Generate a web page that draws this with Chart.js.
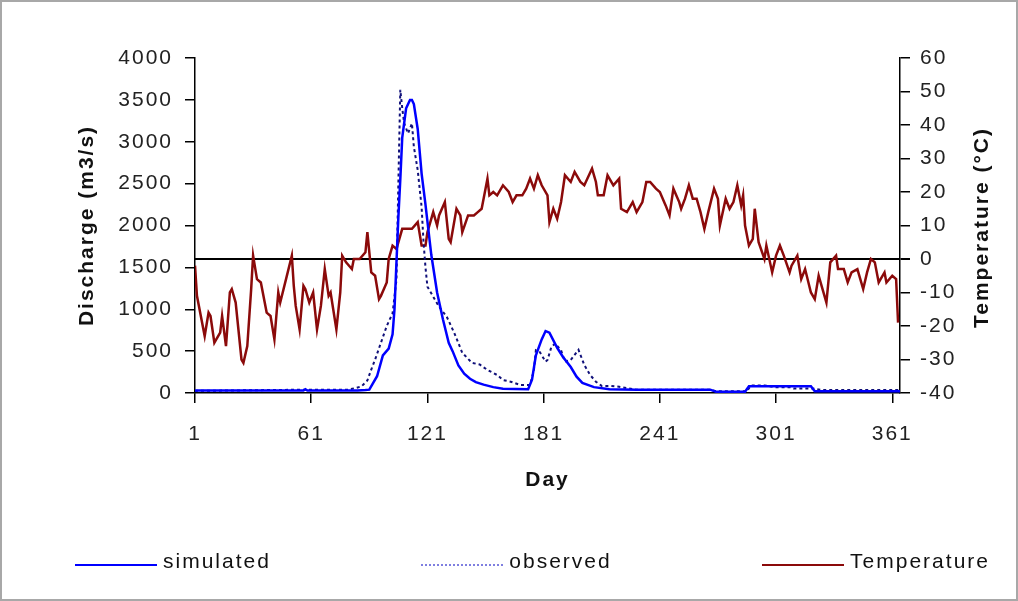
<!DOCTYPE html>
<html>
<head>
<meta charset="utf-8">
<title>Discharge and temperature</title>
<script src="https://cdn.jsdelivr.net/npm/chart.js@4.4.1/dist/chart.umd.min.js"></script>
<style>
  html, body { margin: 0; padding: 0; background: #fff; }
  #wrap { position: relative; width: 1018px; height: 601px; overflow: hidden; background: #fff; }
  #chart { position: absolute; left: 0; top: 0; }
  #frame { position: absolute; left: 0; top: 0; right: 0; bottom: 0; border: 2px solid #a8a8a8; box-sizing: border-box; pointer-events: none; }
  #legend { position: absolute; left: 75px; right: 28px; top: 549px; display: flex; justify-content: space-between;
            font: 21px "Liberation Sans", Arial, sans-serif; letter-spacing: 2px; color: #111; }
  .item { display: flex; align-items: center; white-space: nowrap; }
  .swatch { width: 82px; height: 0; margin-right: 6px; margin-top: 8px; }
</style>
</head>
<body>
<div id="wrap">
  <canvas id="chart" width="1018" height="601"></canvas>
  <div id="legend"></div>
  <div id="frame"></div>
</div>
<script>
  // x axis
  const xTicks = [1, 61, 121, 181, 241, 301, 361];
  const y2Title = 'Temperature (°C)';

  // simulated discharge (m3/s)
  const simDays = [1, 57, 58, 59, 85, 89, 91, 93, 95, 98, 101, 103, 104, 105, 106, 107, 108, 110, 112, 113,
    114, 116, 118, 120, 123, 126, 129, 132, 134, 137, 140, 143, 146, 150, 155, 160, 173, 175, 177, 180,
    182, 184, 188, 191, 195, 198, 201, 207, 215, 229, 267, 270, 285, 287, 319, 321, 365];
  const simQ = [30, 30, 45, 30, 30, 35, 40, 120, 200, 450, 530, 700, 1000, 1550, 2100, 2550, 3050, 3400, 3500, 3500,
    3450, 3150, 2620, 2250, 1650, 1200, 880, 600, 500, 330, 230, 170, 130, 100, 70, 50, 45, 160, 450, 640,
    740, 720, 540, 430, 310, 195, 120, 70, 45, 40, 40, 15, 15, 80, 80, 20, 20];

  // observed discharge (m3/s)
  const obsDays = [1, 58, 80, 84, 87, 90, 92, 94, 97, 100, 103, 105, 106, 107, 108, 109, 111, 113, 114, 116,
    118, 119, 120, 121, 124, 127, 131, 135, 139, 144, 148, 152, 157, 160, 164, 169, 174, 176, 177, 179,
    182, 183, 185, 187, 190, 192, 195, 197, 199, 201, 202, 205, 208, 211, 215, 220, 229, 267, 270, 286,
    288, 295, 300, 308, 310, 320, 325, 365];
  const obsQ = [25, 40, 40, 60, 80, 150, 280, 400, 600, 800, 950, 1350, 2500, 3620, 3400, 3220, 3100, 3220, 2940, 2660,
    2220, 1800, 1500, 1270, 1150, 1030, 910, 710, 480, 360, 340, 275, 215, 155, 135, 96, 96, 275, 510, 490,
    375, 395, 550, 590, 510, 375, 395, 455, 515, 395, 335, 215, 135, 85, 85, 75, 40, 40, 20, 20,
    90, 90, 70, 70, 55, 55, 36, 36];

  // air temperature (°C)
  const tempDays = [1, 2, 6, 8, 9, 11, 14, 15, 17, 19, 20, 22, 25, 26, 28, 30, 31, 33, 35, 38,
    40, 42, 44, 45, 48, 51, 52, 53, 55, 57, 58, 60, 62, 64, 66, 68, 70, 71, 74, 76,
    77, 79, 82, 83, 86, 89, 90, 92, 94, 96, 97, 100, 101, 103, 105, 108, 110, 113, 116, 118,
    120, 121, 124, 126, 127, 130, 132, 133, 136, 138, 139, 142, 145, 147, 149, 151, 152, 153, 155, 157,
    160, 163, 165, 167, 170, 172, 174, 176, 178, 180, 183, 184, 186, 188, 190, 192, 195, 197, 200, 202,
    206, 208, 209, 212, 214, 217, 220, 221, 224, 227, 229, 232, 234, 236, 239, 241, 244, 246, 248, 251,
    252, 254, 256, 258, 260, 262, 264, 266, 269, 271, 272, 275, 277, 279, 281, 283, 284, 285, 287, 289,
    290, 292, 295, 296, 299, 301, 303, 305, 308, 309, 312, 314, 316, 319, 321, 323, 325, 327, 329, 332,
    333, 336, 338, 340, 343, 346, 348, 350, 352, 354, 357, 358, 361, 363, 364];
  const tempC = [-2, -11, -23, -16, -17, -25, -22, -17, -26, -10, -9, -13, -30, -31, -26, -9, 1, -6, -7, -16,
    -17, -24, -10, -13, -6, 1, -8, -14, -21, -8, -9, -13, -10, -21, -14, -3, -11, -10, -21, -10,
    1, -1, -3, 0, 0, 2, 8, -4, -5, -12, -11, -7, 0, 4, 3, 9, 9, 9, 11, 4,
    4, 8, 14, 10, 13, 17, 6, 5, 15, 13, 8, 13, 13, 14, 15, 21, 24, 19, 20, 19,
    22, 20, 17, 19, 19, 21, 24, 21, 25, 22, 19, 11, 15, 12, 17, 25, 23, 26, 23, 22,
    27, 23, 19, 19, 25, 22, 24, 15, 14, 17, 14, 17, 23, 23, 21, 20, 16, 13, 21, 17,
    15, 18, 22, 18, 18, 14, 9, 14, 21, 18, 10, 18, 15, 17, 22, 16, 19, 10, 4, 6,
    15, 5, 0, 4, -4, 1, 4, 1, -4, -2, 1, -6, -3, -10, -12, -5, -9, -13, -1, 1,
    -3, -3, -7, -4, -3, -9, -4, 0, -1, -7, -4, -7, -5, -6, -19];

  const pts = (xs, ys) => xs.map((x, i) => ({ x: x, y: ys[i] }));

  const FONT = '"Liberation Sans", Arial, sans-serif';
  const plain = (v) => String(v);

  // wider letter spacing, like the original picture
  const spacing = {
    id: 'spacing',
    beforeLayout(chart) { chart.ctx.letterSpacing = '2px'; },
    beforeDraw(chart) { chart.ctx.letterSpacing = '2px'; }
  };

  // right axis title reads bottom to top in the original
  const rightTitle = {
    id: 'rightTitle',
    afterDraw(chart) {
      const s = chart.scales.y2;
      const ctx = chart.ctx;
      ctx.save();
      ctx.font = 'bold 21px ' + FONT;
      ctx.fillStyle = '#111';
      ctx.textAlign = 'center';
      ctx.textBaseline = 'middle';
      ctx.translate(s.right - 36, (s.top + s.bottom) / 2 + 2);
      ctx.rotate(-Math.PI / 2);
      ctx.fillText(y2Title, 0, 0);
      ctx.restore();
    }
  };

  const chart = new Chart(document.getElementById('chart'), {
    type: 'line',
    data: {
      datasets: [
        {
          label: 'simulated',
          data: pts(simDays, simQ),
          yAxisID: 'y',
          borderColor: '#0000ff',
          borderWidth: 2.5,
          pointRadius: 0,
          tension: 0
        },
        {
          label: 'observed',
          data: pts(obsDays, obsQ),
          yAxisID: 'y',
          borderColor: '#10107a',
          borderWidth: 2,
          borderDash: [3, 3],
          pointRadius: 0,
          tension: 0
        },
        {
          label: 'Temperature',
          data: pts(tempDays, tempC),
          yAxisID: 'y2',
          borderColor: '#8b0a0a',
          borderWidth: 2.5,
          pointRadius: 0,
          tension: 0
        }
      ]
    },
    options: {
      responsive: false,
      animation: false,
      events: [],
      layout: { padding: { top: 58, bottom: 80, left: 0, right: 0 } },
      plugins: { legend: { display: false }, tooltip: { enabled: false } },
      scales: {
        x: {
          type: 'linear',
          min: 1,
          max: 365,
          afterBuildTicks: (axis) => { axis.ticks = xTicks.map(v => ({ value: v })); },
          afterFit: (axis) => { axis.height = 128; },
          border: { display: true, color: '#000', width: 1.5 },
          grid: { display: true, drawOnChartArea: false, drawTicks: true, tickLength: 10, color: '#000', lineWidth: 1.5 },
          ticks: { color: '#222', font: { family: FONT, size: 21 }, padding: 19, maxRotation: 0, autoSkip: false, callback: plain },
          title: { display: true, text: 'Day', color: '#111', font: { family: FONT, size: 21, weight: 'bold' }, padding: { top: 0, bottom: 28 } }
        },
        y: {
          position: 'left',
          min: 0,
          max: 4000,
          afterFit: (axis) => { axis.width = 195; },
          border: { display: true, color: '#000', width: 1.5 },
          grid: { display: true, drawOnChartArea: false, drawTicks: true, tickLength: 10, color: '#000', lineWidth: 1.5 },
          ticks: { stepSize: 500, color: '#222', font: { family: FONT, size: 21 }, padding: 12, callback: plain },
          title: { display: true, text: 'Discharge (m3/s)', color: '#111', font: { family: FONT, size: 21, weight: 'bold' }, padding: { top: 75, bottom: 0 } }
        },
        y2: {
          position: 'right',
          min: -40,
          max: 60,
          afterFit: (axis) => { axis.width = 118; },
          border: { display: true, color: '#000', width: 1.5 },
          grid: {
            display: true,
            drawOnChartArea: true,
            drawTicks: true,
            tickLength: 10,
            color: (c) => (c.tick && c.tick.value === 0 ? '#000' : 'rgba(0,0,0,0)'),
            tickColor: '#000',
            lineWidth: (c) => (c.tick && c.tick.value === 0 ? 2 : 1.5)
          },
          ticks: { stepSize: 10, color: '#222', font: { family: FONT, size: 21 }, padding: 10, callback: plain },
          title: { display: false }
        }
      }
    },
    plugins: [spacing, rightTitle]
  });

  // legend below the plot, built from the datasets
  const legend = document.getElementById('legend');
  chart.data.datasets.forEach(ds => {
    const item = document.createElement('div');
    item.className = 'item';
    const sw = document.createElement('span');
    sw.className = 'swatch';
    sw.style.borderTop = ds.borderDash ? '2px dotted #7f7fe0' : '2px solid ' + ds.borderColor;
    const txt = document.createElement('span');
    txt.textContent = ds.label;
    item.appendChild(sw);
    item.appendChild(txt);
    legend.appendChild(item);
  });
</script>
</body>
</html>
